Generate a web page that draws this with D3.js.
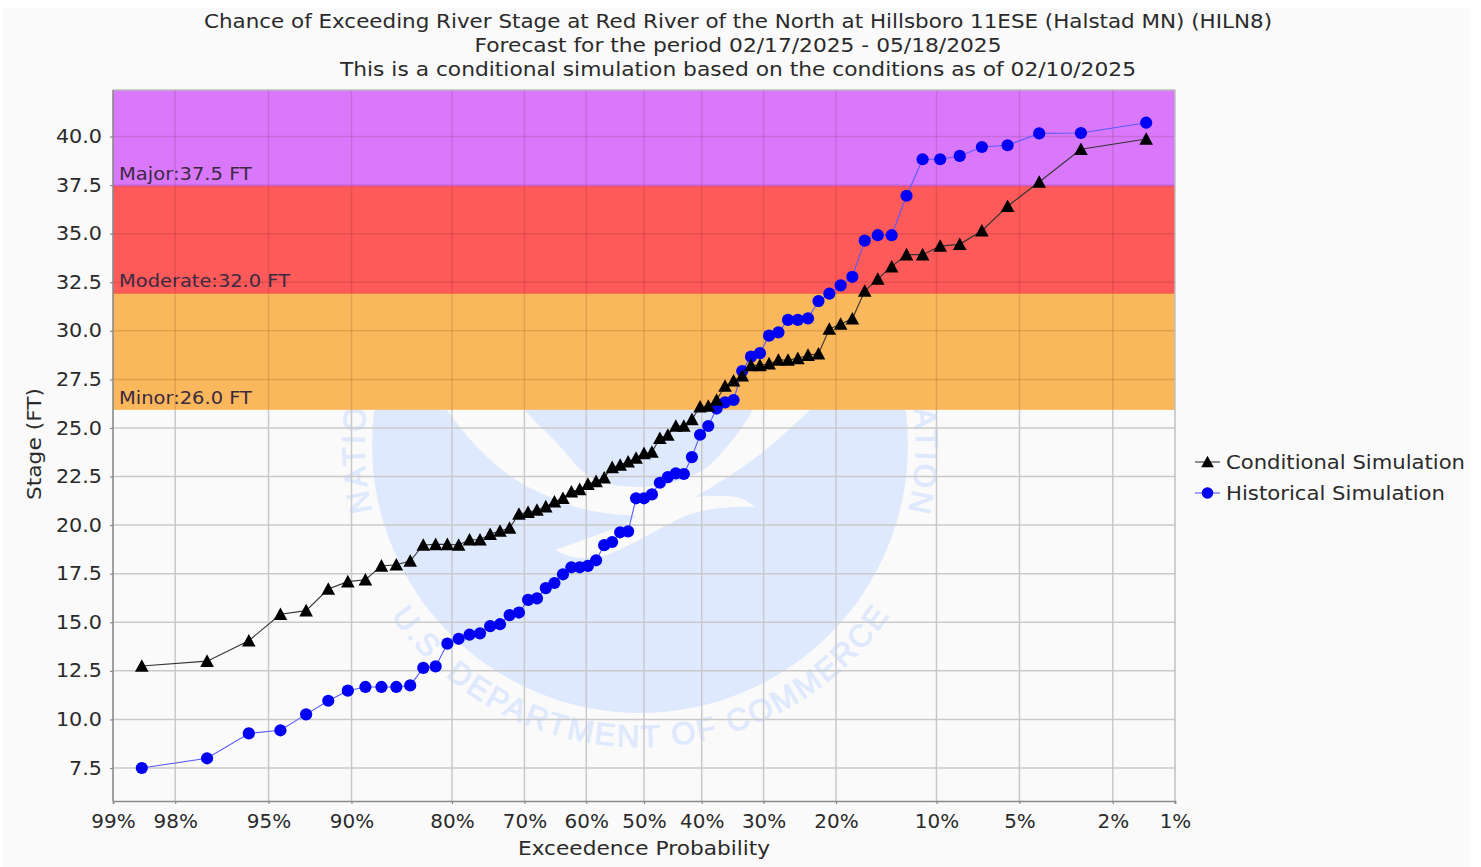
<!DOCTYPE html>
<html><head><meta charset="utf-8">
<script src="https://cdn.jsdelivr.net/npm/d3@7"></script>
<style>
html,body{margin:0;padding:0;background:#fff;overflow:hidden}
text{font-family:"DejaVu Sans",sans-serif;fill:#2a2a2a}
</style></head><body>
<svg id="c" width="1481" height="867"></svg>
<script>
const titles=["Chance of Exceeding River Stage at Red River of the North at Hillsboro 11ESE (Halstad MN) (HILN8)","Forecast for the period 02/17/2025 - 05/18/2025","This is a conditional simulation based on the conditions as of 02/10/2025"];
const xTicks=[99,98,95,90,80,70,60,50,40,30,20,10,5,2,1];
const yTicks=[7.5,10,12.5,15,17.5,20,22.5,25,27.5,30,32.5,35,37.5,40];
const exceedance=[98.61,97.22,95.83,94.44,93.06,91.67,90.28,88.89,87.50,86.11,84.72,83.33,81.94,80.56,79.17,77.78,76.39,75.00,73.61,72.22,70.83,69.44,68.06,66.67,65.28,63.89,62.50,61.11,59.72,58.33,56.94,55.56,54.17,52.78,51.39,50.00,48.61,47.22,45.83,44.44,43.06,41.67,40.28,38.89,37.50,36.11,34.72,33.33,31.94,30.56,29.17,27.78,26.39,25.00,23.61,22.22,20.83,19.44,18.06,16.67,15.28,13.89,12.50,11.11,9.72,8.33,6.94,5.56,4.17,2.78,1.39];
const conditional=[12.75,13.0,14.05,15.41,15.6,16.71,17.09,17.19,17.9,17.96,18.15,18.98,19.01,19.01,18.98,19.25,19.25,19.53,19.7,19.85,20.57,20.66,20.78,20.95,21.2,21.38,21.72,21.84,22.11,22.25,22.44,22.97,23.09,23.26,23.45,23.69,23.76,24.47,24.64,25.1,25.1,25.44,26.09,26.13,26.44,27.16,27.43,27.69,28.22,28.22,28.31,28.5,28.5,28.58,28.75,28.82,30.09,30.35,30.62,32.05,32.67,33.3,33.92,33.92,34.36,34.45,35.15,36.41,37.66,39.34,39.87];
const historical=[7.5,8.0,9.28,9.44,10.26,10.96,11.48,11.67,11.67,11.67,11.75,12.65,12.73,13.9,14.15,14.36,14.43,14.8,14.9,15.37,15.5,16.15,16.23,16.76,17.02,17.47,17.83,17.83,17.9,18.19,18.97,19.13,19.63,19.68,21.38,21.38,21.58,22.18,22.47,22.66,22.63,23.5,24.65,25.1,26.0,26.32,26.44,27.93,28.67,28.85,29.75,29.92,30.56,30.56,30.64,31.53,31.91,32.34,32.78,34.64,34.92,34.92,36.95,38.83,38.83,39.0,39.46,39.55,40.16,40.18,40.71];
const bandNames=["Minor","Moderate","Major"];
const bandFloors=[26,32,37.5];
const seriesNames=["Conditional Simulation","Historical Simulation"];

const probit=pct=>{const p=pct/100,q=p<.5?p:1-p,t=Math.sqrt(-2*Math.log(q)),
 z=t-(2.515517+.802853*t+.010328*t*t)/(1+1.432788*t+.189269*t*t+.001308*t*t*t);return p<.5?-z:z;};

const L=113,R=1175,T=90,B=801;
const svg=d3.select("#c");
const xz=d3.scaleLinear().domain([probit(1),probit(99)]).range([R,L]);
const y=d3.scaleLinear().domain([40,7.5]).range([136.5,768]);
const bandColors=["#fbb75b","#fe5a5a","#da78fb"];
const bandShift=1.3;
const stretch=(sel,k)=>sel.each(function(){this.setAttribute("lengthAdjust","spacingAndGlyphs");this.setAttribute("textLength",this.getComputedTextLength()*k);});
const fit=(sel,w)=>sel.attr("lengthAdjust","spacingAndGlyphs").attr("textLength",w);

const defs=svg.append("defs");
defs.append("clipPath").attr("id","pc").append("rect").attr("x",L).attr("y",T).attr("width",R-L).attr("height",B-T);
defs.append("clipPath").attr("id","bandClip").append("rect").attr("x",L).attr("y",T).attr("width",R-L).attr("height",y(bandFloors[0])+bandShift-T);
const cx=640,cy=445,r=268;
const arc=(rad,a0,a1,sw,big)=>{const pt=a=>[cx+rad*Math.sin(a*Math.PI/180),cy-rad*Math.cos(a*Math.PI/180)];
 const [x0,y0]=pt(a0),[x1,y1]=pt(a1);return `M${x0},${y0}A${rad},${rad} 0 ${big} ${sw} ${x1},${y1}`;};
defs.append("path").attr("id","arcTop").attr("d",arc(276,-104,104,1,1));
defs.append("path").attr("id","arcBot").attr("d",arc(302,-124,124,0,0));

svg.append("rect").attr("x",3).attr("y",8).attr("width",1467).attr("height",859).attr("fill","#fafafa");

// NOAA watermark
const wm=svg.append("g").attr("clip-path","url(#pc)");
const WM="#dfe9fe";
wm.append("circle").attr("cx",cx).attr("cy",cy).attr("r",r).attr("fill",WM);
const c=d3.line().curve(d3.curveCatmullRom.alpha(.5));
const parts=[
 [[440,400],[447,410],[477,447],[513,478],[550,497],[587,510],[636,516]],
 [[636,516],[627,523],[583,540],[555,550]],
 [[555,550],[573,557],[600,557],[633,543],[683,517],[707,510],[735,507],[755,507]],
 [[755,507],[740,498],[718,496],[695,497]],
 [[695,497],[723,480],[763,452],[810,410],[820,400]],
 [[752,400],[752,410],[730,443],[703,470],[667,484],[640,487],[610,484],[587,475],[557,443],[525,410],[520,400]]
];
const joined=parts.map((p,i)=>{const d=c(p);return i?d.replace(/^M/,"L"):d;}).join("")+"Z";
wm.append("path").attr("d",joined).attr("fill","#fafafa");
const wmText=(id,txt,len)=>wm.append("text").style("font-family","'Liberation Sans',sans-serif").style("fill",WM).style("stroke",WM).style("stroke-width",1)
 .attr("font-size",31).append("textPath").attr("href","#"+id).attr("startOffset","50%").attr("text-anchor","middle")
 .attr("textLength",len).attr("lengthAdjust","spacing").text(txt);
wmText("arcTop","NATIONAL OCEANIC AND ATMOSPHERIC ADMINISTRATION",1000);
wmText("arcBot","U.S. DEPARTMENT OF COMMERCE",585);

// grid on plain background
const grid=svg.append("g").attr("clip-path","url(#pc)");
const drawGrid=(g,col)=>{
 g.selectAll(".gx").data(xTicks.slice(1,-1)).join("line").attr("class","gx").attr("x1",d=>xz(probit(d))).attr("x2",d=>xz(probit(d))).attr("y1",T).attr("y2",B).attr("stroke",col).attr("stroke-width",1.5);
 g.selectAll(".gy").data(yTicks).join("line").attr("class","gy").attr("x1",L).attr("x2",R).attr("y1",d=>y(d)).attr("y2",d=>y(d)).attr("stroke",col).attr("stroke-width",1.5);
};
drawGrid(grid,"#c9c9c9");
// bands
bandFloors.forEach((f,i)=>{const yTop=i<2?y(bandFloors[i+1])+bandShift:T;
 svg.append("rect").attr("x",L).attr("width",R-L).attr("y",yTop).attr("height",y(f)+bandShift-yTop).attr("fill",bandColors[i]);
});
drawGrid(svg.append("g").attr("clip-path","url(#bandClip)"),"rgba(60,0,0,.12)");
// band edge lines and labels
bandFloors.forEach((f,i)=>{
 if(i<2) svg.append("line").attr("x1",L).attr("x2",R).attr("y1",y(bandFloors[i+1])+bandShift).attr("y2",y(bandFloors[i+1])+bandShift).attr("stroke",i==1?"#ee4a78":"#f4603c").attr("stroke-width",1.2);
});
const bandWidths=[133,171,133];
bandFloors.forEach((f,i)=>{
 fit(svg.append("text").attr("x",119).attr("y",y(f)-5).attr("font-size",17.5).style("fill","#3a2a40").text(`${bandNames[i]}:${f.toFixed(1)} FT`),bandWidths[i]);
});
// frame
svg.append("line").attr("x1",L).attr("x2",R).attr("y1",T).attr("y2",T).attr("stroke","#bdbdbd").attr("stroke-width",1.4);
svg.append("line").attr("x1",R).attr("x2",R).attr("y1",T).attr("y2",B).attr("stroke","#bdbdbd").attr("stroke-width",1.4);

// axes
const ax=svg.append("g").attr("transform",`translate(0,${B})`).call(d3.axisBottom(xz).tickValues(xTicks.map(probit)).tickSize(3).tickPadding(6).tickFormat((d,i)=>xTicks[i]+"%"));
const ay=svg.append("g").attr("transform",`translate(${L},0)`).call(d3.axisLeft(y).tickValues(yTicks).tickSize(3).tickPadding(8).tickFormat(d3.format(".1f")));
ay.select(".domain").attr("d",`M0,${T}V${B}`);
[ax,ay].forEach(a=>{a.selectAll(".domain").attr("stroke","#8a8a8a").attr("stroke-width",1.6);
 a.selectAll(".tick line").attr("stroke","#8a8a8a").attr("stroke-width",1.2);
 a.selectAll("text").attr("font-size",19).style("font-family","'DejaVu Sans',sans-serif");});
ax.selectAll("text").attr("dy","0.95em");
stretch(ax.selectAll("text"),1.05);
stretch(ay.selectAll("text"),1.09);

// titles
const titleWidths=[1068,527,796];
titles.forEach((t,i)=>fit(svg.append("text").attr("x",738).attr("y",28+24*i).attr("text-anchor","middle").attr("font-size",19.4).text(t),titleWidths[i]));
fit(svg.append("text").attr("x",644).attr("y",855).attr("text-anchor","middle").attr("font-size",19.4).text("Exceedence Probability"),252);
fit(svg.append("text").attr("transform","translate(41,444) rotate(-90)").attr("text-anchor","middle").attr("font-size",19.4).text("Stage (FT)"),112);

// series
const px=d=>xz(probit(d));
const line=d3.line();
const tri=(x,yy,s=6.8)=>`M${x},${yy-s}L${x+s},${yy+s*.85}L${x-s},${yy+s*.85}Z`;
const plot=svg.append("g").attr("clip-path","url(#pc)");
plot.append("path").attr("d",line(exceedance.map((e,i)=>[px(e),y(historical[i])]))).attr("fill","none").attr("stroke","#5a5aff").attr("stroke-width",1.1);
plot.selectAll(".h").data(historical).join("circle").attr("cx",(d,i)=>px(exceedance[i])).attr("cy",d=>y(d)).attr("r",6.1).attr("fill","#0000f5");
plot.append("path").attr("d",line(exceedance.map((e,i)=>[px(e),y(conditional[i])]))).attr("fill","none").attr("stroke","#333").attr("stroke-width",1.1);
plot.selectAll(".t").data(conditional).join("path").attr("d",(d,i)=>tri(px(exceedance[i]),y(d))).attr("fill","#000");

// legend
const lg=[[462,"#333"],[493,"#5a5aff"]];
const legendWidths=[239,219];
seriesNames.forEach((n,i)=>{const ly=lg[i][0];
 svg.append("line").attr("x1",1195).attr("x2",1220).attr("y1",ly).attr("y2",ly).attr("stroke",lg[i][1]).attr("stroke-width",1.1);
 if(i==0) svg.append("path").attr("d",tri(1207.5,ly,6.3)).attr("fill","#000");
 else svg.append("circle").attr("cx",1207.5).attr("cy",ly).attr("r",5.8).attr("fill","#0000f5");
 fit(svg.append("text").attr("x",1226).attr("y",ly+7).attr("font-size",19.6).text(n),legendWidths[i]);
});
</script></body></html>
